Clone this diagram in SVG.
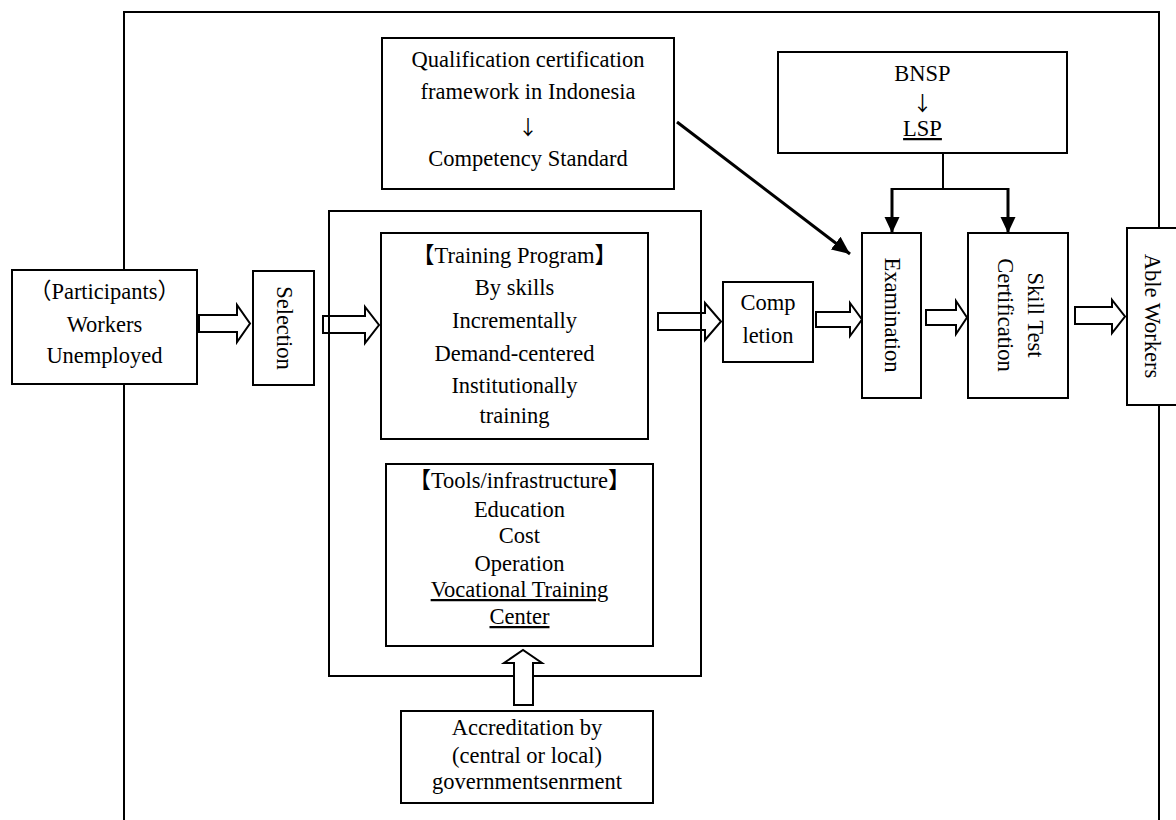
<svg xmlns="http://www.w3.org/2000/svg" width="1176" height="820" viewBox="0 0 1176 820">
  <style>
    .box { fill: #fff; stroke: #000; stroke-width: 2; }
    .frame { fill: none; stroke: #000; stroke-width: 2; }
    .blk { fill: #fff; stroke: #000; stroke-width: 2; stroke-linejoin: miter; }
    .line { fill: none; stroke: #000; stroke-width: 2; }
    .thick { fill: none; stroke: #000; stroke-width: 3; }
    text { font-family: "Liberation Serif", "Noto Sans CJK JP", serif; font-size: 22.5px; fill: #000; text-anchor: middle; }
    .arw { font-family: "Noto Sans CJK JP", sans-serif; font-size: 20px; }
    .u { text-decoration: underline; }
  </style>
  <defs>
    <marker id="head" markerUnits="userSpaceOnUse" markerWidth="20" markerHeight="16" refX="18" refY="8" orient="auto">
      <path d="M0,0 L18,8 L0,16 Z" fill="#000"/>
    </marker>
    <marker id="headV" markerUnits="userSpaceOnUse" markerWidth="18" markerHeight="16" refX="16" refY="7.5" orient="auto">
      <path d="M0,0 L16,7.5 L0,15 Z" fill="#000"/>
    </marker>
  </defs>

  <!-- outer frame, open at the bottom -->
  <path class="frame" d="M124,820 V12 H1159 V820"/>

  <!-- connectors -->
  <g id="connectors">
    <!-- hollow block arrows along the main flow -->
    <path class="blk" d="M199,315 H237 V305 L250,323.5 L237,342 V332 H199 Z"/>
    <path class="blk" d="M323,316 H365 V307 L379,325 L365,343 V333 H323 Z"/>
    <path class="blk" d="M658,313 H705 V303 L721,321.5 L705,340 V330 H658 Z"/>
    <path class="blk" d="M816,312 H850 V303 L862,319.5 L850,336 V327 H816 Z"/>
    <path class="blk" d="M926,310 H956 V301 L967,317.5 L956,334 V325 H926 Z"/>
    <path class="blk" d="M1075,307 H1112 V300 L1125,316.5 L1112,333 V324 H1075 Z"/>
    <!-- competency standard to examination -->
    <line class="thick" x1="677" y1="122" x2="850" y2="254" marker-end="url(#head)"/>
    <!-- BNSP / LSP branches -->
    <line class="line" x1="943" y1="153" x2="943" y2="189"/>
    <line class="line" x1="891" y1="189" x2="1009" y2="189"/>
    <line class="thick" x1="892" y1="188" x2="892" y2="233" marker-end="url(#headV)"/>
    <line class="thick" x1="1008" y1="188" x2="1008" y2="233" marker-end="url(#headV)"/>
  </g>

  <g id="participants">
    <rect class="box" x="12" y="270" width="185" height="114"/>
    <text x="104.5" y="299">（Participants）</text>
    <text x="104.5" y="332">Workers</text>
    <text x="104.5" y="363">Unemployed</text>
  </g>

  <g id="selection">
    <rect class="box" x="253" y="271" width="61" height="114"/>
    <text x="283.5" y="335" transform="rotate(90 283.5 328)">Selection</text>
  </g>

  <g id="training-block">
    <rect class="frame" x="329" y="211" width="372" height="465"/>
  </g>

  <g id="training-program">
    <rect class="box" x="381" y="233" width="267" height="206"/>
    <text x="514.5" y="263">【Training Program】</text>
    <text x="514.5" y="295">By skills</text>
    <text x="514.5" y="328">Incrementally</text>
    <text x="514.5" y="361">Demand-centered</text>
    <text x="514.5" y="393">Institutionally</text>
    <text x="514.5" y="423">training</text>
  </g>

  <g id="tools">
    <rect class="box" x="386" y="464" width="267" height="182"/>
    <text x="519.5" y="488">【Tools/infrastructure】</text>
    <text x="519.5" y="517">Education</text>
    <text x="519.5" y="543">Cost</text>
    <text x="519.5" y="571">Operation</text>
    <text x="519.5" y="597" class="u">Vocational Training</text>
    <text x="519.5" y="624" class="u">Center</text>
  </g>

  <!-- accreditation feeds the training centre; drawn over the block outline -->
  <g id="accreditation-arrow">
    <path class="blk" d="M514,705 V663 H504 L523,650 L542,663 H533 V705 Z"/>
  </g>

  <g id="accreditation">
    <rect class="box" x="401" y="711" width="252" height="92"/>
    <text x="527" y="735">Accreditation by</text>
    <text x="527" y="763">(central or local)</text>
    <text x="527" y="789">governmentsenrment</text>
  </g>

  <g id="qualification">
    <rect class="box" x="382" y="38" width="292" height="151"/>
    <text x="528" y="67">Qualification certification</text>
    <text x="528" y="99">framework in Indonesia</text>
    <text class="arw" x="528" y="135">↓</text>
    <text x="528" y="166">Competency Standard</text>
  </g>

  <g id="bnsp">
    <rect class="box" x="778" y="52" width="289" height="101"/>
    <text x="922.5" y="81">BNSP</text>
    <text class="arw" x="922.5" y="111">↓</text>
    <text x="922.5" y="136" class="u">LSP</text>
  </g>

  <g id="completion">
    <rect class="box" x="723" y="282" width="90" height="80"/>
    <text x="768" y="310">Comp</text>
    <text x="768" y="343">letion</text>
  </g>

  <g id="examination">
    <rect class="box" x="862" y="233" width="59" height="165"/>
    <text x="891.5" y="322" transform="rotate(90 891.5 315)">Examination</text>
  </g>

  <g id="skill-test">
    <rect class="box" x="968" y="233" width="100" height="165"/>
    <text x="1035" y="322" transform="rotate(90 1035 315)">Skill Test</text>
    <text x="1005" y="322" transform="rotate(90 1005 315)">Certification</text>
  </g>

  <g id="able-workers">
    <rect class="box" x="1127" y="228" width="60" height="177"/>
    <text x="1152" y="323" transform="rotate(90 1152 316)">Able Workers</text>
  </g>
</svg>
